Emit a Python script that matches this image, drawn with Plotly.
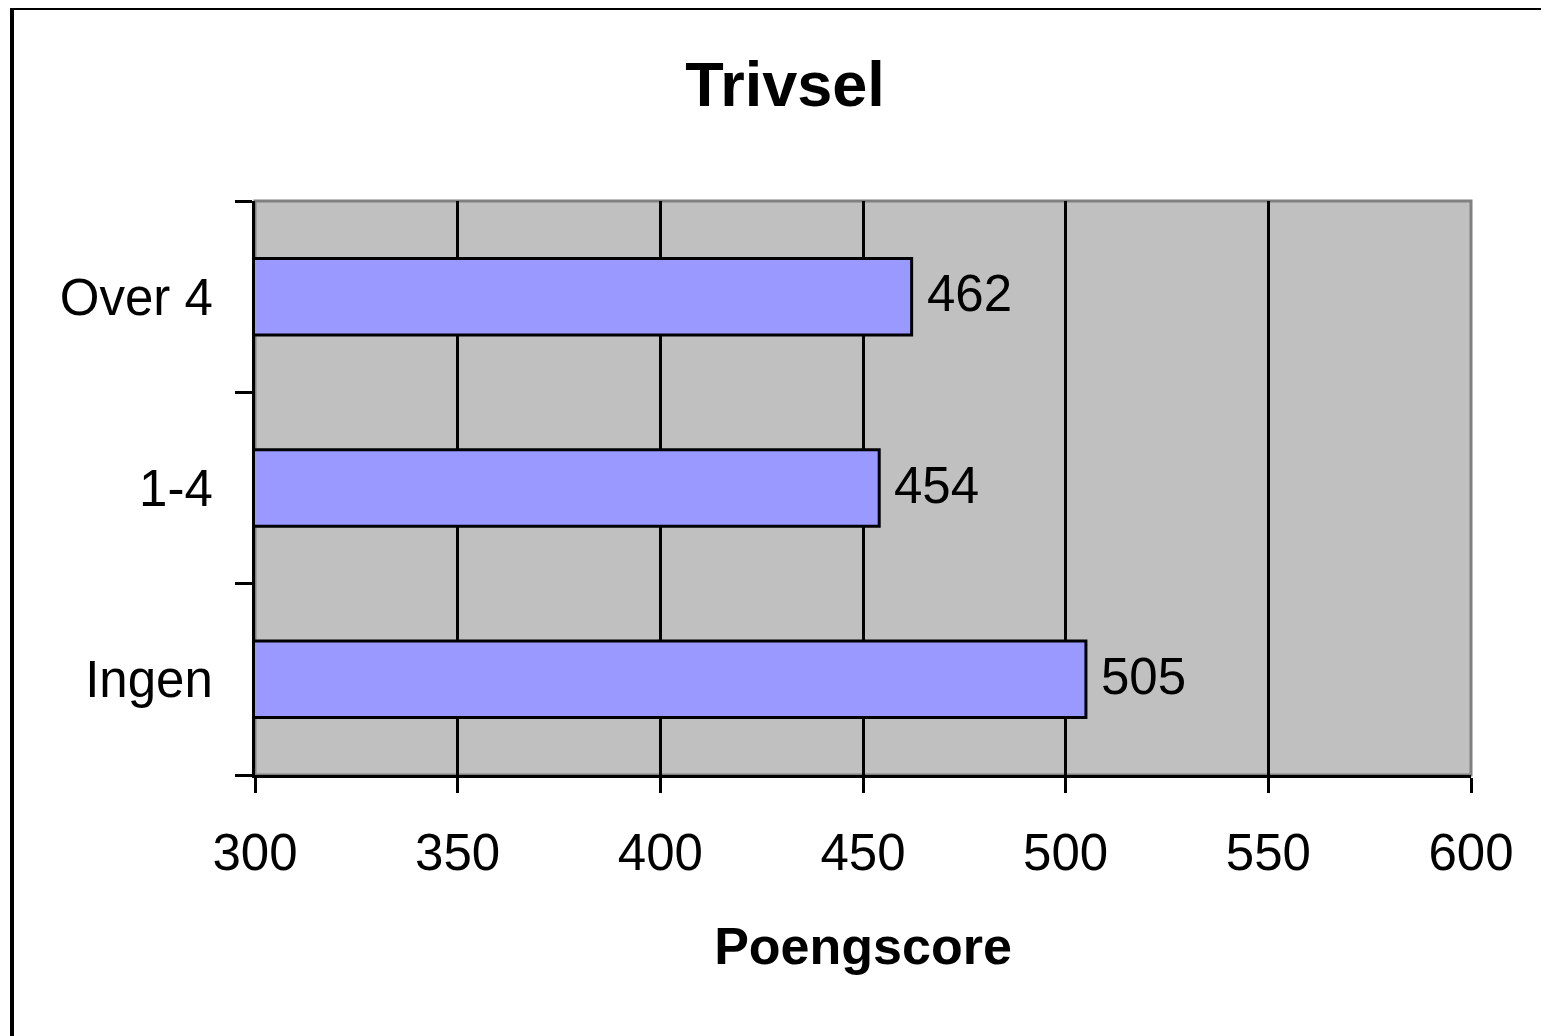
import plotly.graph_objects as go

categories = ["Ingen", "1-4", "Over 4"]
values = [505, 454, 462]
x_ticks = [300, 350, 400, 450, 500, 550, 600]
title_text = "Trivsel"
x_title = "Poengscore"

# page body has an 8px default margin; compensate so the picture lines up
OFF = 8
W, H = 1549 - OFF, 1036 - OFF
L, R, T, B = 255 - OFF, 1471 - OFF, 201 - OFF, 775 - OFF
pw, ph = R - L, B - T

def px2x(px):
    return (px - OFF - L) / pw

def py2y(py):
    return (B - (py - OFF)) / ph

font = "Liberation Sans, Arial, sans-serif"

fig = go.Figure()
fig.add_trace(go.Bar(
    y=categories, x=values, base=0, orientation="h",
    marker=dict(color="#9999FF", line=dict(color="black", width=3)),
    width=0.4, showlegend=False, hoverinfo="x+y",
))

annotations = []
for c, v in zip(categories, values):
    annotations.append(dict(
        x=v, y=c, xref="x", yref="y", text=str(v), showarrow=False,
        xanchor="left", yanchor="middle", xshift=13, yshift=3,
        font=dict(family=font, size=51, color="black"),
    ))

shapes = [
    dict(type="rect", xref="paper", yref="paper", x0=0, x1=1, y0=0, y1=1,
         line=dict(color="#808080", width=3), fillcolor="rgba(0,0,0,0)", layer="below"),
    dict(type="rect", xref="paper", yref="paper",
         x0=px2x(12), x1=px2x(1600), y0=py2y(1080), y1=py2y(8),
         line=dict(color="black", width=4), fillcolor="rgba(0,0,0,0)", layer="above"),
]

fig.update_layout(
    width=W, height=H,
    margin=dict(l=L, r=W - R, t=T, b=H - B, pad=0),
    paper_bgcolor="white", plot_bgcolor="#C0C0C0",
    title=dict(text=f"<b>{title_text}</b>", x=(785 - OFF) / W, xanchor="center",
               y=1 - (84 - OFF) / H, yanchor="middle", yref="container",
               font=dict(family=font, size=63, color="black")),
    xaxis=dict(range=[300, 600], tickvals=x_ticks, ticktext=[str(t) for t in x_ticks],
               showgrid=True, gridcolor="black", gridwidth=3,
               showline=True, linecolor="black", linewidth=3,
               ticks="outside", ticklen=15, tickwidth=3, tickcolor="black",
               ticklabelstandoff=16,
               tickfont=dict(family=font, size=51, color="black"),
               zeroline=False,
               title=dict(text=f"<b>{x_title}</b>", standoff=48,
                          font=dict(family=font, size=52, color="black"))),
    yaxis=dict(type="category", categoryorder="array", categoryarray=categories,
               range=[-0.5, 2.5], tickson="boundaries",
               showgrid=False, showline=True, linecolor="black", linewidth=3,
               ticks="outside", ticklen=17, tickwidth=3, tickcolor="black",
               ticklabelstandoff=29,
               tickfont=dict(family=font, size=51, color="black")),
    annotations=annotations,
    shapes=shapes,
)

fig.write_html("out.html")
